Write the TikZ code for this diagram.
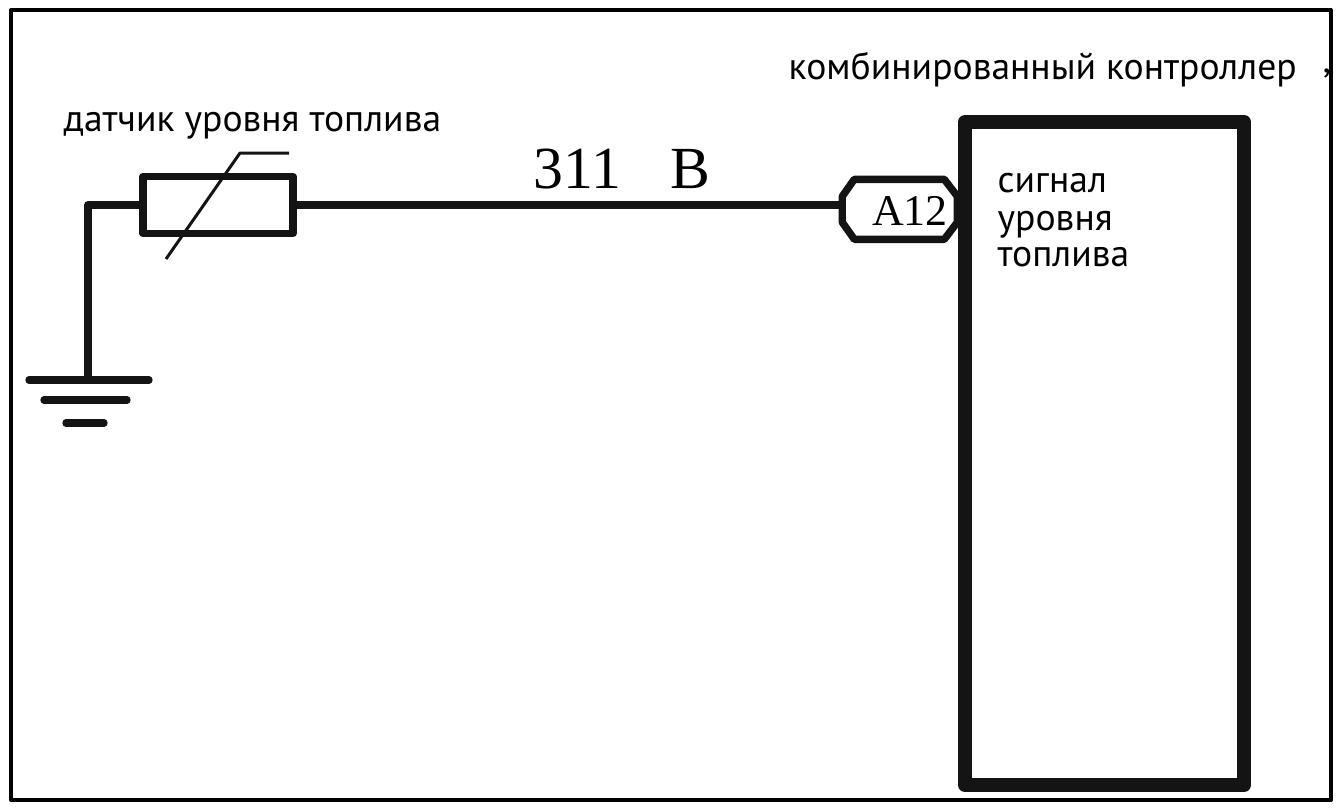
\documentclass[tikz,border=0pt]{standalone}
\usepackage{fontspec}
\setmainfont{PT Sans}
\newfontfamily\serifpart{Liberation Serif}
\definecolor{inkblack}{HTML}{141414}
\newcommand{\groundbars}[1]{
    \draw[wire,line cap=round] (#1) ++(-0.59,0) -- ++(1.2,0);
    \draw[wire,line cap=round] (#1) ++(-0.44,0.2) -- ++(0.83,0);
    \draw[wire,line cap=round] (#1) ++(-0.22,0.43) -- ++(0.38,0);
}
\tikzset{
    wire/.style={draw=inkblack,line width=2.1pt},
    caption/.style={inner sep=0pt,anchor=base west,font=\fontsize{10.7}{12}\selectfont},
}
\begin{document}
\begin{tikzpicture}[y=-1cm,line join=round]
        \useasboundingbox (0,0) rectangle (13.39,8.10);
        \draw[line width=1.15pt] (0.11,0.10) rectangle (13.31,8.00);
        % sensor and ground
        \node[wire,minimum width=1.5cm,minimum height=0.57cm,inner sep=0pt] (sensor) at (2.18,2.05) {};
        \coordinate (gnd) at (0.88,3.80);
        \draw[wire] (sensor.west) -- (gnd |- sensor.west) -- (gnd);
        \groundbars{gnd}
        \coordinate (slant a) at (1.66,2.59);
        \coordinate (slant b) at (2.40,1.53);
        \coordinate (slant c) at (2.89,1.53);
        \draw[draw=inkblack,line width=0.85pt] (slant a) -- (slant b) -- (slant c);
        % controller
        \node[draw=inkblack,line width=4pt,minimum width=2.79cm,minimum height=6.63cm,inner sep=0pt] (ctrl) at (11.045,4.535) {};
        \node[minimum width=1.15cm,minimum height=0.6cm,inner sep=0pt] (pin) at (9.005,2.10) {};
        \draw[wire] (pin.north west) ++(0.12,0) -- ++(0.90,0) -- ++(0.13,0.17) -- ++(0,0.26) -- ++(-0.13,0.17) -- ++(-0.90,0) -- ++(-0.12,-0.17) -- ++(0,-0.26) -- cycle;
        \node[font=\serifpart\fontsize{12.5}{14}\selectfont,inner sep=0pt] (pinlabel) at (9.10,2.11) {A12};
        \draw[wire] (sensor.east) -- (pin.west |- sensor.east);
        % texts
        \node[caption] (sensorname) at (0.63,1.31) {датчик уровня топлива};
        \node[caption] (ctrlname) at (7.88,0.79) {комбинированный контроллер};
        \node[caption] (tick) at (13.22,0.72) {,};
        \node[caption] (sig a) at (9.97,1.92) {сигнал};
        \node[caption] (sig b) at (9.97,2.30) {уровня};
        \node[caption] (sig c) at (9.97,2.66) {топлива};
        \node[font=\serifpart\fontsize{17}{20}\selectfont,inner sep=0pt,anchor=base west] (wirecode) at (5.33,1.88) {311\hspace{0.82em}B};
    \end{tikzpicture}
\end{document}
